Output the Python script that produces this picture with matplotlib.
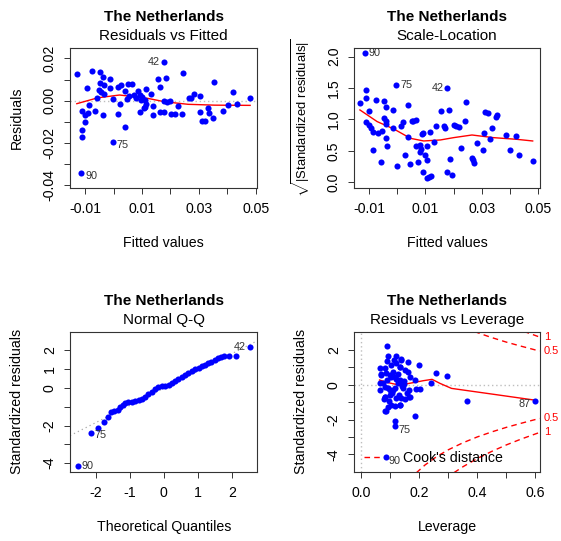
import matplotlib
matplotlib.use("Agg")
import matplotlib.pyplot as plt

plt.rcParams["font.family"] = ["Liberation Sans", "DejaVu Sans"]
plt.rcParams["mathtext.fontset"] = "custom"
plt.rcParams["mathtext.rm"] = "Liberation Sans"
plt.rcParams["axes.unicode_minus"] = False

COUNTRY = "The Netherlands"
BLUE, RED, GREY = "#0000FF", "#FF0000", "#BEBEBE"

# ---- panel 1: residuals vs fitted ----
fitted = [-0.0129, -0.0094, -0.0074, -0.0046, -0.0036, -0.0014, -0.0049, -0.0034, -0.0051,
          -0.0044, -0.0034, -0.0059, -0.0014, -0.0001, 0.0015, 0.0025, 0.0039, 0.0051,
          0.0066, 0.0046, 0.0072, 0.0086, 0.0092, 0.0100, 0.0115, 0.0133, 0.0109, 0.0115,
          0.0106, 0.0092, 0.0139, 0.0139, 0.0156, 0.0165, 0.0178, 0.0185, 0.0178, 0.0189,
          0.0198, 0.0165, 0.0178, 0.0201, 0.0215, 0.0227, 0.0241, 0.0244, 0.0265, 0.0274,
          0.0284, 0.0304, 0.0305, 0.0312, 0.0321, 0.0333, 0.0335, 0.0351, 0.0354, 0.0386,
          0.0401, 0.0421, 0.0433, 0.0481, -0.0112, -0.0099, -0.0091, -0.0086, -0.0111,
          -0.0111, -0.0099, -0.0065, -0.0038, 0.0015, 0.0021, 0.0039, -0.0002, -0.0114,
          0.0098, 0.0109, 0.0078, 0.0056]
resid = [0.0128, 0.0058, 0.0141, 0.0137, 0.0114, 0.0104, 0.0082, 0.0074, 0.0051,
         0.0043, 0.0030, 0.0011, 0.0062, 0.0008, 0.0066, 0.0074, 0.0047, 0.0077,
         0.0081, 0.0008, 0.0027, 0.0046, 0.0027, 0.0019, 0.0054, 0.0033, 0.0003, -0.0017,
         -0.0033, -0.0052, -0.0027, -0.0068, 0.0103, 0.0063, 0.0185, 0.0109, -0.0002, -0.0008,
         -0.0002, -0.0055, -0.0055, -0.0065, -0.0063, -0.0024, -0.0065, 0.0131, 0.0011, 0.0014,
         0.0030, 0.0022, -0.0052, -0.0096, -0.0096, -0.0036, -0.0060, -0.0084, 0.0087, -0.0047,
         -0.0021, 0.0039, -0.0016, 0.0011, -0.0049, -0.0068, -0.0057, -0.0021, -0.0141,
         -0.0174, -0.0103, -0.0049, -0.0068, -0.0063, -0.0016, -0.0123, -0.0194, -0.0344,
         0.0003, -0.0028, 0.0011, 0.0020]
smooth1_x = [-0.0129, -0.0055, 0.0021, 0.0074, 0.0121, 0.0180, 0.0262, 0.0356, 0.0480]
smooth1_y = [-0.0014, 0.0014, 0.0027, 0.0019, 0.0011, -0.0005, -0.0017, -0.0021, -0.0022]

# ---- panel 2: scale-location ----
sl_x = [-0.0115, -0.0004, 0.0178, -0.0132, -0.0112, -0.0112, -0.0100, -0.0112, -0.0100,
        -0.0094, -0.0087, -0.0085, -0.0074, -0.0067, -0.0059, -0.0053, -0.0047, -0.0039,
        -0.0047, -0.0041, -0.0038, -0.0039, -0.0035, -0.0016, -0.0015, -0.0002, 0.0014,
        0.0021, 0.0026, 0.0039, 0.0039, 0.0047, 0.0051, 0.0056, 0.0065, 0.0068, 0.0073,
        0.0080, 0.0080, 0.0085, 0.0088, 0.0091, 0.0092, 0.0100, 0.0104, 0.0106, 0.0112,
        0.0120, 0.0106, 0.0115, 0.0129, 0.0138, 0.0155, 0.0165, 0.0168, 0.0176, 0.0184,
        0.0188, 0.0194, 0.0200, 0.0209, 0.0218, 0.0226, 0.0239, 0.0244, 0.0265, 0.0271,
        0.0269, 0.0282, 0.0304, 0.0306, 0.0312, 0.0320, 0.0329, 0.0335, 0.0351, 0.0353,
        0.0386, 0.0400, 0.0421, 0.0432, 0.0480]
sl_y = [2.053, 1.549, 1.496, 1.257, 1.469, 1.347, 1.135, 0.966, 0.912,
        0.859, 0.806, 0.509, 1.310, 0.780, 0.329, 0.817, 1.294, 1.204,
        1.029, 0.976, 0.923, 0.700, 0.584, 1.151, 0.870, 0.265, 0.897,
        0.955, 0.435, 1.231, 0.727, 0.286, 0.976, 0.981, 0.992, 0.578, 0.329,
        0.594, 0.477, 0.531, 0.764, 0.780, 0.170, 0.435, 0.578, 0.064, 0.090,
        0.106, 0.355, 0.796, 0.647, 0.902, 1.141, 0.902, 0.859, 0.159, 1.151,
        0.371, 0.117, 0.912, 0.897, 0.881, 0.541, 0.976, 1.284, 0.382, 0.302,
        0.350, 0.621, 0.515, 0.780, 1.114, 1.098, 0.690, 0.859, 1.045, 1.066,
        0.753, 0.515, 0.743, 0.435, 0.340]
smooth2_x = [-0.0132, -0.0071, -0.0012, 0.0047, 0.0094, 0.0153, 0.0200, 0.0265, 0.0341, 0.0424, 0.0480]
smooth2_y = [1.151, 0.966, 0.849, 0.700, 0.658, 0.674, 0.711, 0.753, 0.711, 0.684, 0.658]

# ---- panel 3: normal Q-Q ----
qq_theo = [-2.53, -2.13, -1.92, -1.75, -1.64, -1.54, -1.45, -1.35, -1.28, -1.21, -1.13,
           -1.04, -0.94, -0.84, -0.74, -0.65, -0.55, -0.45, -0.35, -0.25, -0.16, -0.06,
           0.04, 0.14, 0.23, 0.33, 0.43, 0.53, 0.63, 0.72, 0.82, 0.92, 1.02, 1.11,
           1.21, 1.29, 1.39, 1.49, 1.58, 1.68, 1.78, 1.90, 2.11, 2.53]
qq_resid = [-4.16, -2.38, -2.11, -1.79, -1.53, -1.26, -1.21, -1.17, -1.03, -0.91, -0.82,
            -0.76, -0.73, -0.69, -0.66, -0.60, -0.46, -0.32, -0.20, -0.07, 0.04, 0.11,
            0.12, 0.16, 0.25, 0.37, 0.48, 0.60, 0.71, 0.82, 0.92, 1.01, 1.08, 1.17,
            1.24, 1.35, 1.40, 1.49, 1.60, 1.67, 1.71, 1.71, 1.71, 2.20]
qq_line = (-0.01, 0.92)  # intercept, slope

# ---- panel 4: residuals vs leverage ----
lev = [0.063, 0.089, 0.101, 0.113, 0.132, 0.069, 0.084, 0.104, 0.063, 0.075, 0.089,
       0.121, 0.127, 0.135, 0.147, 0.063, 0.081, 0.098, 0.115, 0.144, 0.165, 0.190,
       0.081, 0.098, 0.129, 0.156, 0.077, 0.121, 0.150, 0.165, 0.104, 0.132, 0.092,
       0.084, 0.185, 0.115, 0.118, 0.090, 0.092, 0.121, 0.136, 0.161, 0.198, 0.256,
       0.294, 0.242, 0.366, 0.597, 0.084, 0.138, 0.146, 0.185, 0.167, 0.150, 0.161,
       0.083, 0.136, 0.167, 0.118, 0.133, 0.083, 0.202, 0.110, 0.092, 0.115, 0.109,
       0.098, 0.069, 0.121, 0.133, 0.081, 0.138, 0.107, 0.142, 0.095, 0.125]
lev_resid = [0.94, 1.36, 1.13, 1.42, 1.04, 0.56, 0.65, 0.46, 0.12, 0.08, 0.27,
             0.35, 0.08, 0.27, 0.23, -0.30, -0.11, -0.30, -0.21, -0.21, -0.30, -0.27,
             -0.69, -0.59, -0.59, -0.50, -0.84, -0.78, -0.84, -0.73, -1.17, -1.19, -1.30,
             -1.51, -1.80, -2.08, -2.37, 2.22, 1.65, 1.65, 1.45, 1.32, 1.13, 0.65,
             0.52, 0.12, -0.92, -0.92, -4.17, 0.17, 0.04, 0.27, 0.46, 0.85, 0.75,
             -0.69, -0.79, -0.69, -1.23, -1.17, -1.49, -0.27, -0.30, -0.21, 0.46, 0.75,
             0.56, 0.61, 1.23, 1.04, 0.94, 1.46, -0.45, -0.05, -0.95, 0.62]
smooth4_x = [0.063, 0.092, 0.132, 0.179, 0.213, 0.244, 0.271, 0.311, 0.392, 0.473, 0.596]
smooth4_y = [0.27, 0.12, -0.02, 0.12, 0.23, 0.31, 0.08, -0.21, -0.40, -0.59, -0.88]
cook05_up_x = [0.39, 0.42, 0.45, 0.50, 0.55, 0.60, 0.615]
cook05_up_y = [3.06, 2.88, 2.71, 2.45, 2.22, 2.00, 1.94]
cook1_up_x = [0.56, 0.58, 0.60, 0.615]
cook1_up_y = [3.07, 2.95, 2.83, 2.74]
cook05_lo_x = [0.19, 0.22, 0.26, 0.30, 0.35, 0.40, 0.45, 0.50, 0.55, 0.60, 0.615]
cook05_lo_y = [-5.06, -4.61, -4.13, -3.74, -3.34, -3.00, -2.71, -2.45, -2.22, -2.00, -1.94]
cook1_lo_x = [0.32, 0.35, 0.40, 0.45, 0.50, 0.55, 0.60, 0.615]
cook1_lo_y = [-5.05, -4.72, -4.24, -3.83, -3.46, -3.13, -2.83, -2.74]
cook_labels = [("1", 2.74), ("0.5", 1.94), ("0.5", -1.94), ("1", -2.74)]

FS = 10.2
PX = 0.72  # points per pixel at dpi 100


def frame(ax, xlim, ylim, xticks, xlabels, yticks, ylabels, xlabel, ylabel, caption,
          ylabel_fs=FS):
    ax.set_xlim(*xlim)
    ax.set_ylim(*ylim)
    ax.set_xticks(xticks, xlabels)
    ax.set_yticks(yticks, ylabels)
    ax.tick_params(length=4.5, width=0.7, color="#333333", labelsize=FS, pad=6)
    ax.tick_params(axis="y", labelrotation=90, pad=5)
    for lab in ax.get_yticklabels():
        lab.set_va("center")
    for s in ax.spines.values():
        s.set_color("#333333")
        s.set_linewidth(0.8)
    ax.set_xlabel(xlabel, fontsize=FS)
    ax.set_ylabel(ylabel, fontsize=ylabel_fs)
    w = ax.get_position().width * 561
    h = ax.get_position().height * 541
    ax.xaxis.set_label_coords(0.5, -55 / h)
    ax.xaxis.label.set_va("center")
    ax.yaxis.set_label_coords(-53 / w, 0.5)
    ax.yaxis.label.set_va("center")
    ax.annotate(COUNTRY, xy=(0.5, 1), xycoords="axes fraction", xytext=(0, 31 * PX),
                textcoords="offset points", ha="center", va="center",
                fontsize=11, fontweight="bold")
    ax.annotate(caption, xy=(0.5, 1), xycoords="axes fraction", xytext=(0, 12 * PX),
                textcoords="offset points", ha="center", va="center", fontsize=11)


def idlabel(ax, x, y, text, dx, dy, ha):
    ax.annotate(text, xy=(x, y), xytext=(dx * PX, dy * PX), textcoords="offset points",
                ha=ha, va="center", fontsize=7.8, color="#333333")


def dots(ax, x, y):
    ax.plot(x, y, "o", color=BLUE, ms=4.4, mec="none", zorder=3)


fig = plt.figure(figsize=(5.61, 5.41), dpi=100)
ax1 = fig.add_axes([0.1248, 0.6530, 0.3342, 0.2588])
ax2 = fig.add_axes([0.6310, 0.6530, 0.3316, 0.2588])
ax3 = fig.add_axes([0.1248, 0.1281, 0.3342, 0.2588])
ax4 = fig.add_axes([0.6310, 0.1281, 0.3316, 0.2588])

fit_ticks = [-0.01, 0.0, 0.01, 0.02, 0.03, 0.04, 0.05]
fit_labels = ["-0.01", "", "0.01", "", "0.03", "", "0.05"]

# (1) residuals vs fitted
frame(ax1, (-0.0153, 0.0506), (-0.0412, 0.0251), fit_ticks, fit_labels,
      [-0.04, -0.03, -0.02, -0.01, 0.0, 0.01, 0.02],
      ["-0.04", "", "-0.02", "", "0.00", "", "0.02"],
      "Fitted values", "Residuals", "Residuals vs Fitted")
ax1.axhline(0, color=GREY, lw=1.0, ls=(0, (1, 2)))
dots(ax1, fitted, resid)
ax1.plot(smooth1_x, smooth1_y, color=RED, lw=1.0)
idlabel(ax1, 0.0178, 0.0185, "42", -4, 0, "right")
idlabel(ax1, -0.0002, -0.0194, "75", 4, -3, "left")
idlabel(ax1, -0.0114, -0.0344, "90", 4, -3, "left")

# (2) scale-location
frame(ax2, (-0.0153, 0.0506), (-0.085, 2.14), fit_ticks, fit_labels,
      [0.0, 0.5, 1.0, 1.5, 2.0], ["0.0", "0.5", "1.0", "1.5", "2.0"],
      "Fitted values", r"$\sqrt{|\mathrm{Standardized\ residuals}|}$", "Scale-Location",
      ylabel_fs=9.4)
dots(ax2, sl_x, sl_y)
ax2.plot(smooth2_x, smooth2_y, color=RED, lw=1.0)
idlabel(ax2, -0.0115, 2.053, "90", 4, 0, "left")
idlabel(ax2, -0.0004, 1.549, "75", 4, 0, "left")
idlabel(ax2, 0.0178, 1.496, "42", -4, 0, "right")

# (3) normal Q-Q
frame(ax3, (-2.75, 2.75), (-4.46, 3.0), [-2, -1, 0, 1, 2], ["-2", "-1", "0", "1", "2"],
      [-4, -3, -2, -1, 0, 1, 2], ["-4", "", "-2", "", "0", "1", "2"],
      "Theoretical Quantiles", "Standardized residuals", "Normal Q-Q")
ax3.axline((0, qq_line[0]), slope=qq_line[1], color="#AAAAAA", lw=0.9, ls=(0, (1, 2.5)))
dots(ax3, qq_theo, qq_resid)
idlabel(ax3, 2.53, 2.20, "42", -4, 0, "right")
idlabel(ax3, -2.13, -2.38, "75", 3, -2, "left")
idlabel(ax3, -2.53, -4.16, "90", 4, 0, "left")

# (4) residuals vs leverage
frame(ax4, (-0.025, 0.616), (-5.0, 3.05),
      [0.0, 0.1, 0.2, 0.3, 0.4, 0.5, 0.6], ["0.0", "", "0.2", "", "0.4", "", "0.6"],
      [-4, -3, -2, -1, 0, 1, 2], ["-4", "", "-2", "", "0", "", "2"],
      "Leverage", "Standardized residuals", "Residuals vs Leverage")
ax4.axhline(0, color=GREY, lw=1.0, ls=(0, (1, 2)))
ax4.axvline(0, color=GREY, lw=1.0, ls=(0, (1, 2)))
dots(ax4, lev, lev_resid)
ax4.plot(smooth4_x, smooth4_y, color=RED, lw=1.0)
dash = (0, (4, 3))
ax4.plot(cook05_up_x, cook05_up_y, color=RED, lw=1.0, ls=dash, label="Cook's distance")
ax4.plot(cook1_up_x, cook1_up_y, color=RED, lw=1.0, ls=dash)
ax4.plot(cook05_lo_x, cook05_lo_y, color=RED, lw=1.0, ls=dash)
ax4.plot(cook1_lo_x, cook1_lo_y, color=RED, lw=1.0, ls=dash)
for txt, yv in cook_labels:
    ax4.annotate(txt, xy=(1.0, yv), xycoords=ax4.get_yaxis_transform(),
                 xytext=(4 * PX, 0), textcoords="offset points", ha="left", va="center",
                 fontsize=8, color=RED, annotation_clip=False)
idlabel(ax4, 0.118, -2.37, "75", 3, -4, "left")
idlabel(ax4, 0.084, -4.17, "90", 2.5, -3.5, "left")
idlabel(ax4, 0.597, -0.92, "87", -4, -3.5, "right")
ax4.legend(loc="lower left", bbox_to_anchor=(0.055, 0.045), frameon=False, fontsize=FS,
           handlelength=1.1, handletextpad=1.65, borderpad=0, borderaxespad=0)

fig.savefig("out.png", dpi=100)
